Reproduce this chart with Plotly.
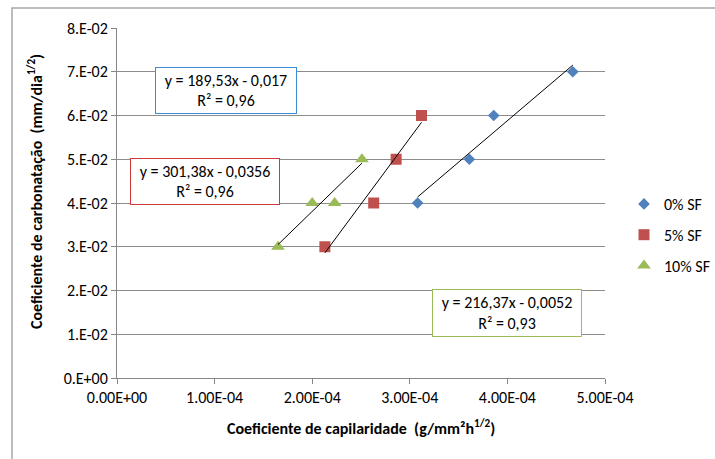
import plotly.graph_objects as go

# Capillarity coefficient (g/mm²h^1/2) vs carbonation coefficient (mm/dia^1/2)
series_names = ["0% SF", "5% SF", "10% SF"]
cap_0 = [3.08e-4, 3.61e-4, 3.86e-4, 4.67e-4]
carb_0 = [0.04, 0.05, 0.06, 0.07]
cap_5 = [2.13e-4, 2.63e-4, 2.86e-4, 3.12e-4]
carb_5 = [0.03, 0.04, 0.05, 0.06]
cap_10 = [1.65e-4, 2.00e-4, 2.23e-4, 2.51e-4]
carb_10 = [0.03, 0.04, 0.04, 0.05]

# Linear trendline coefficients (slope, intercept, R²)
fit_0 = (189.53, -0.017, 0.96)
fit_5 = (301.38, -0.0356, 0.96)
fit_10 = (216.37, -0.0052, 0.93)

x_tickvals = [0, 1e-4, 2e-4, 3e-4, 4e-4, 5e-4]
x_ticktext = ["0.00E+00", "1.00E-04", "2.00E-04", "3.00E-04", "4.00E-04", "5.00E-04"]
y_tickvals = [0, 0.01, 0.02, 0.03, 0.04, 0.05, 0.06, 0.07, 0.08]
y_ticktext = ["0.E+00", "1.E-02", "2.E-02", "3.E-02", "4.E-02", "5.E-02", "6.E-02", "7.E-02", "8.E-02"]

FONT = "Carlito, Calibri, Lato, sans-serif"
FS = 16
W, H = 715, 459
L, R, T, B = 117, 110, 28, 81
PW, PH = W - L - R, H - T - B


def px(xp):
    return (xp - L) / PW


def py(yp):
    return (H - B - yp) / PH


def fmt(v, nd):
    return f"{abs(v):.{nd}f}".replace(".", ",")


fig = go.Figure()

styles = [
    (cap_0, carb_0, fit_0, "#4F81BD", "diamond", 9),
    (cap_5, carb_5, fit_5, "#C0504D", "square", 11),
    (cap_10, carb_10, fit_10, "#9BBB59", "triangle-up", 12),
]

for name, (xs, ys, fit, col, sym, sz) in zip(series_names, styles):
    fig.add_trace(go.Scatter(
        x=xs, y=ys, mode="markers", name=name, legendgroup=name,
        marker=dict(color=col, symbol=sym, size=sz, line=dict(width=0)),
    ))

for name, (xs, ys, fit, col, sym, sz) in zip(series_names, styles):
    m, b, _ = fit
    x0, x1 = min(xs), max(xs)
    fig.add_trace(go.Scatter(
        x=[x0, x1], y=[m * x0 + b, m * x1 + b], mode="lines",
        line=dict(color="black", width=1), showlegend=False, hoverinfo="skip",
    ))

# Equation boxes (center px, width, height, border colour)
boxes = [
    (fit_0, 226, 90, 140, 45, "#3C8DD6", 3),
    (fit_5, 204.5, 181.5, 148, 45, "#D0383A", 4),
    (fit_10, 507, 312.5, 148, 46, "#9BBB59", 4),
]
for (m, b, r2), cx, cy, bw, bh, bc, nd in boxes:
    sign = "-" if b < 0 else "+"
    txt = f"y = {fmt(m, 2)}x {sign} {fmt(b, nd)}<br>R² = {fmt(r2, 2)}"
    fig.add_annotation(
        x=px(cx), y=py(cy), xref="paper", yref="paper", text=txt,
        xanchor="center", yanchor="middle",
        showarrow=False, align="center", width=bw, height=bh,
        bordercolor=bc, borderwidth=1, borderpad=0, bgcolor="white",
        font=dict(family=FONT, size=FS, color="black"),
    )

# Chart area outline
fig.add_shape(type="rect", xref="paper", yref="paper",
              x0=px(12), x1=px(730), y0=py(8), y1=py(480),
              line=dict(color="#A6A6A6", width=1.5), layer="below")

fig.add_annotation(
    x=px(361), y=py(427), xref="paper", yref="paper", showarrow=False,
    xanchor="center", yanchor="middle",
    text="<b>Coeficiente de capilaridade  (g/mm²h<sup>1/2</sup>)</b>",
    font=dict(family=FONT, size=FS, color="black"),
)
fig.add_annotation(
    x=px(35), y=py(192), xref="paper", yref="paper", showarrow=False, textangle=-90,
    xanchor="center", yanchor="middle",
    text="<b>Coeficiente de carbonatação  (mm/dia<sup>1/2</sup>)</b>",
    font=dict(family=FONT, size=FS, color="black"),
)

fig.update_layout(
    width=W, height=H, margin=dict(l=L, r=R, t=T, b=B, autoexpand=False),
    paper_bgcolor="white", plot_bgcolor="white",
    font=dict(family=FONT, size=FS, color="black"),
    legend=dict(x=px(624), y=py(187), xanchor="left", yanchor="top",
                tracegroupgap=7, itemwidth=30, bgcolor="rgba(0,0,0,0)",
                font=dict(family=FONT, size=FS)),
    xaxis=dict(range=[0, 5e-4], tickvals=x_tickvals, ticktext=x_ticktext,
               showgrid=False, zeroline=False, showline=True, linecolor="#868686",
               linewidth=1, ticks="outside", ticklen=5, tickcolor="#868686",
               tickfont=dict(family=FONT, size=FS), automargin=False),
    yaxis=dict(range=[0, 0.08], tickvals=y_tickvals, ticktext=y_ticktext,
               showgrid=True, gridcolor="#8C8C8C", gridwidth=1, zeroline=False,
               showline=True, linecolor="#868686", linewidth=1, ticks="outside",
               ticklen=5, tickcolor="#868686", tickfont=dict(family=FONT, size=FS),
               automargin=False),
)

fig.write_html("out.html")
